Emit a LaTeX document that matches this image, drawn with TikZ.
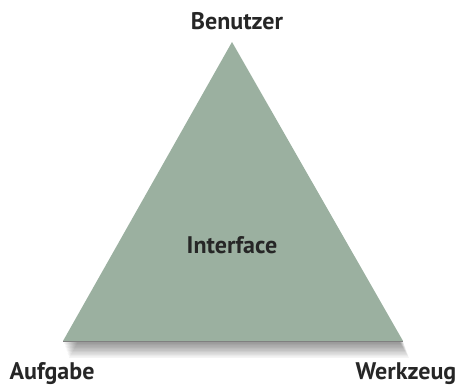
\documentclass[tikz,border=0pt]{standalone}
\usepackage{fontspec}
\setmainfont{PT Sans}
\begin{document}
\begin{tikzpicture}[x=1pt,y=1pt,
  corner/.style={font=\bfseries\fontsize{24}{27}\selectfont, text=black!85, inner sep=0pt},
  face/.style={fill=tri, draw=none}]
\definecolor{tri}{HTML}{9BB0A0}
\useasboundingbox (0,0) rectangle (465,389);
% corners of the triangle
\coordinate (top) at (232,347);
\coordinate (left) at (63,48);
\coordinate (right) at (403,48);
% soft shadow under the base
\foreach \k in {1,...,12}{
  \fill[black, opacity=0.045] ([xshift=\k/2, yshift=-1.4*\k]left) -- ([xshift=\k/2,yshift=-1.4*\k]right) -- ([yshift=-1.4*\k]top) -- cycle;
}
\fill[face] (top) -- (left) -- (right) -- cycle;
\draw[black!50, line width=0.8pt] (left) -- (right);
% labels
\node[corner] (benutzer) at (237,368) {Benutzer};
\node[corner] (aufgabe) at (52,15) {Aufgabe};
\node[corner] (werkzeug) at (406,15) {Werkzeug};
\node[corner] (interface) at (232,144) {Interface};
\end{tikzpicture}
\end{document}
